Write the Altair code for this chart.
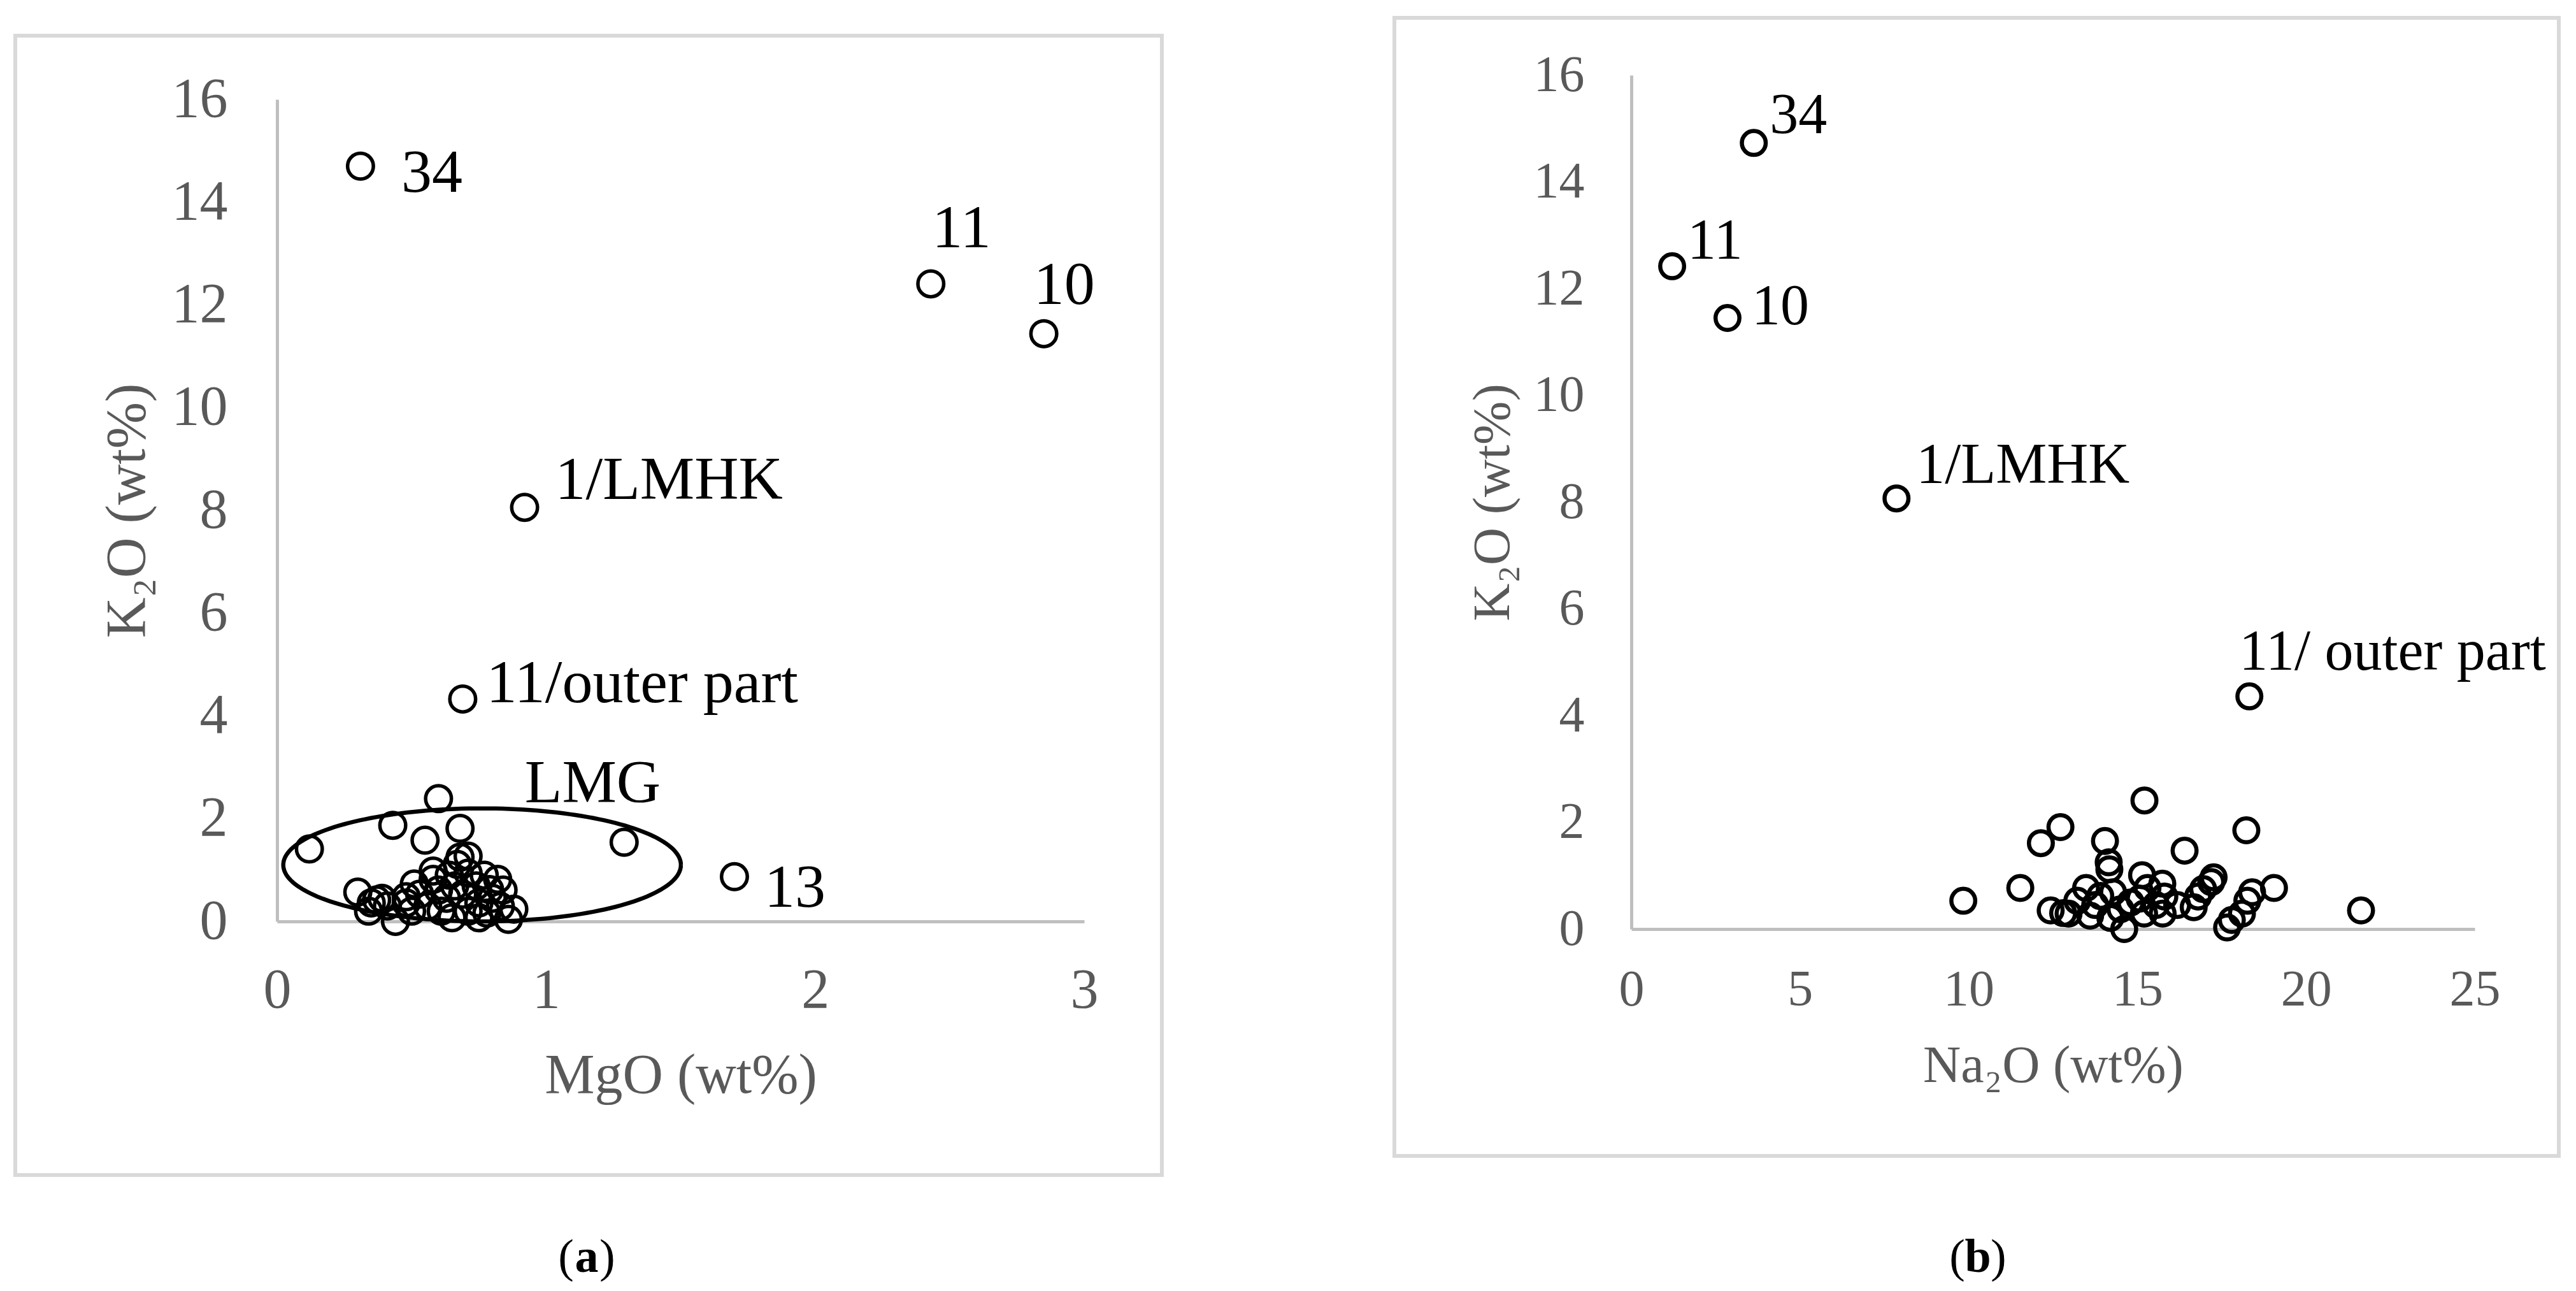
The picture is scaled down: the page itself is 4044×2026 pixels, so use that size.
import altair as alt
import numpy as np
import pandas as pd

FONT = "Liberation Serif"
TXT_GRAY = "#595959"
AXIS_GRAY = "#bfbfbf"
FRAME_GRAY = "#d9d9d9"

# ---------------- Panel (a): MgO vs K2O ----------------
a_mgo = [0.60, 0.43, 0.68, 0.55, 1.29, 0.12, 0.68, 0.71, 0.67, 0.58,
         0.30, 0.39, 0.34, 0.44, 0.88, 0.86, 0.53, 0.51, 0.58, 0.64,
         0.71, 0.77, 0.82, 0.84, 0.80, 0.75, 0.69, 0.63, 0.56, 0.50,
         0.61, 0.71, 0.78, 0.66, 0.74, 0.60, 0.48, 0.83, 0.65, 0.75,
         0.35, 0.41, 0.48, 0.37, 0.79]
a_k2o = [2.39, 1.87, 1.81, 1.58, 1.54, 1.41, 1.25, 1.27, 1.11, 0.98,
         0.57, 0.45, 0.20, 0.00, 0.24, 0.04, 0.53, 0.73, 0.82, 0.90,
         0.94, 0.90, 0.82, 0.61, 0.45, 0.36, 0.53, 0.45, 0.29, 0.20,
         0.20, 0.20, 0.16, 0.69, 0.69, 0.61, 0.36, 0.29, 0.07, 0.07,
         0.36, 0.30, 0.48, 0.42, 0.62]
a_lab_text = ["34", "11", "10", "1/LMHK", "11/outer part", "13"]
a_lab_mgo = [0.31, 2.43, 2.85, 0.92, 0.69, 1.70]
a_lab_k2o = [14.70, 12.41, 11.44, 8.06, 4.33, 0.87]
lmg_center = [0.762, 1.10]
lmg_radius = [0.739, 1.10]

# ---------------- Panel (b): Na2O vs K2O ----------------
b_na2o = [9.84, 11.53, 12.14, 12.72, 15.21, 14.04, 14.15, 14.17, 16.40, 18.23,
          15.14, 17.26, 17.19, 19.05, 21.63, 14.61, 17.66, 12.43, 12.80, 18.26,
          16.67, 18.10, 17.80, 18.40, 13.22, 13.48, 13.75, 13.60, 14.28, 14.50,
          15.07, 15.30, 15.74, 15.80, 16.18, 15.75, 15.20, 14.20, 12.96, 16.80,
          13.90, 14.80, 15.55, 16.95]
b_k2o = [0.53, 0.77, 1.61, 1.91, 2.41, 1.65, 1.25, 1.12, 1.47, 1.85,
         1.01, 0.97, 0.88, 0.77, 0.35, 0.00, 0.03, 0.35, 0.30, 0.53,
         0.41, 0.29, 0.17, 0.69, 0.53, 0.77, 0.45, 0.25, 0.69, 0.37,
         0.57, 0.77, 0.85, 0.61, 0.45, 0.29, 0.29, 0.21, 0.29, 0.61,
         0.62, 0.50, 0.45, 0.75]
b_lab_text = ["34", "11", "10", "1/LMHK", "11/ outer part"]
b_lab_na2o = [3.63, 1.21, 2.85, 7.86, 18.32]
b_lab_k2o = [14.73, 12.42, 11.45, 8.07, 4.36]

# label offsets (pixels, style only)
a_lab_off = [(64, 11), (2, -86), (-16, -76), (48, -42), (37, -24), (47, 18)]
b_lab_off = [(25, -42), (24, -39), (38, -17), (31, -51), (-16, -69)]


def axis_x(title, values, lfs, tfs, lpad, ty):
    return alt.Axis(title=title, values=values, format="d", grid=False, ticks=False, tickSize=0,
                    domainColor=AXIS_GRAY, domainWidth=5, labelColor=TXT_GRAY, labelFont=FONT,
                    labelFontSize=lfs, labelPadding=lpad, labelFlush=False, labelOverlap=False,
                    titleFont=FONT, titleFontSize=tfs, titleColor=TXT_GRAY, titleFontWeight="normal",
                    titleY=ty, titleBaseline="middle")


def axis_y(title, lfs, tfs, lpad, tx, ty):
    return alt.Axis(title=title, values=list(range(0, 17, 2)), format="d", grid=False, ticks=False,
                    tickSize=0, domainColor=AXIS_GRAY, domainWidth=5, labelColor=TXT_GRAY,
                    labelFont=FONT, labelFontSize=lfs, labelPadding=lpad, labelFlush=False,
                    labelOverlap=False, titleFont=FONT, titleFontSize=tfs, titleColor=TXT_GRAY,
                    titleFontWeight="normal", titleX=tx, titleY=ty, titleAngle=270,
                    titleBaseline="middle", titleAlign="center")


one = pd.DataFrame({"k": [0]})


def frame(x1, x2, y1, y2):
    return alt.Chart(one).mark_rect(fillOpacity=0, stroke=FRAME_GRAY, strokeWidth=6).encode(
        x=alt.value(x1), x2=alt.value(x2), y=alt.value(y1), y2=alt.value(y2))


def paren_label(letter, cx, cy, fs):
    half = fs * 0.27
    left = alt.Chart(one).mark_text(text="(", align="right", baseline="middle", font=FONT,
                                    fontSize=fs, color="black").encode(
        x=alt.value(cx - half), y=alt.value(cy))
    mid = alt.Chart(one).mark_text(text=letter, align="center", baseline="middle", font=FONT,
                                   fontSize=fs, fontWeight="bold", color="black").encode(
        x=alt.value(cx), y=alt.value(cy))
    right = alt.Chart(one).mark_text(text=")", align="left", baseline="middle", font=FONT,
                                     fontSize=fs, color="black").encode(
        x=alt.value(cx + half), y=alt.value(cy))
    return [left, mid, right]


# ----- Panel (a) -----
# the panel's view starts at the same height as panel (b); its y range starts 38 px lower
WA, HA = 1267, 1328
YTOP_A = 38
xa = alt.X("x:Q", scale=alt.Scale(domain=[0, 3], nice=False, zero=False),
           axis=axis_x("MgO (wt%)", [0, 1, 2, 3], 88, 88, 64, 242))
ya = alt.Y("y:Q", scale=alt.Scale(domain=[0, 16], nice=False, zero=False, range=[HA, YTOP_A]),
           axis=axis_y("K₂O (wt%)", 88, 88, 78, -235, (HA + YTOP_A) / 2))

df_a = pd.DataFrame({"x": a_mgo + a_lab_mgo, "y": a_k2o + a_lab_k2o})
pts_a = alt.Chart(df_a).mark_point(shape="circle", filled=False, color="black", opacity=1,
                                   size=1640, strokeWidth=5.5).encode(x=xa, y=ya)

t = np.linspace(0, 2 * np.pi, 181)
df_ell = pd.DataFrame({"x": lmg_center[0] + lmg_radius[0] * np.cos(t),
                       "y": lmg_center[1] + lmg_radius[1] * np.sin(t),
                       "o": np.arange(len(t))})
ell = alt.Chart(df_ell).mark_line(color="black", strokeWidth=6.5).encode(
    x=xa, y=ya, order="o:Q")

labels_a = []
for txt, xv, yv, (dx, dy) in zip(a_lab_text, a_lab_mgo, a_lab_k2o, a_lab_off):
    labels_a.append(alt.Chart(pd.DataFrame({"x": [xv], "y": [yv], "t": [txt]})).mark_text(
        align="left", baseline="middle", dx=dx, dy=dy, font=FONT, fontSize=96, color="black"
    ).encode(x=xa, y=ya, text="t:N"))
labels_a.append(alt.Chart(pd.DataFrame({"x": [lmg_center[0]], "y": [lmg_center[1]], "t": ["LMG"]})).mark_text(
    align="left", baseline="middle", dx=67, dy=-127, font=FONT, fontSize=96, color="black"
).encode(x=xa, y=ya, text="t:N"))

panel_a = alt.layer(frame(-411, 1389, -62, 1726), ell, pts_a, *labels_a,
                    *paren_label("a", 486, 1856, 74)).properties(width=WA, height=HA)

# ----- Panel (b) -----
WB, HB = 1324, 1340
xb = alt.X("x:Q", scale=alt.Scale(domain=[0, 25], nice=False, zero=False),
           axis=axis_x("Na₂O (wt%)", [0, 5, 10, 15, 20, 25], 80, 82, 56, 214))
yb = alt.Y("y:Q", scale=alt.Scale(domain=[0, 16], nice=False, zero=False),
           axis=axis_y("K₂O (wt%)", 80, 82, 74, -218, HB / 2))

df_b = pd.DataFrame({"x": b_na2o + b_lab_na2o, "y": b_k2o + b_lab_k2o})
pts_b = alt.Chart(df_b).mark_point(shape="circle", filled=False, color="black", opacity=1,
                                   size=1406, strokeWidth=6.5).encode(x=xb, y=yb)

labels_b = []
for txt, xv, yv, (dx, dy) in zip(b_lab_text, b_lab_na2o, b_lab_k2o, b_lab_off):
    labels_b.append(alt.Chart(pd.DataFrame({"x": [xv], "y": [yv], "t": [txt]})).mark_text(
        align="left", baseline="middle", dx=dx, dy=dy, font=FONT, fontSize=90, color="black"
    ).encode(x=xb, y=yb, text="t:N"))

panel_b = alt.layer(frame(-372, 1456, -90, 1696), pts_b, *labels_b,
                    *paren_label("b", 544, 1856, 74)).properties(width=WB, height=HB)

chart = alt.hconcat(panel_a, panel_b, spacing=359).properties(
    padding={"left": 13, "top": 17, "right": 0, "bottom": 0}
).configure_view(strokeWidth=0)

chart.save("out.html", embed_options={"renderer": "svg", "actions": False})
